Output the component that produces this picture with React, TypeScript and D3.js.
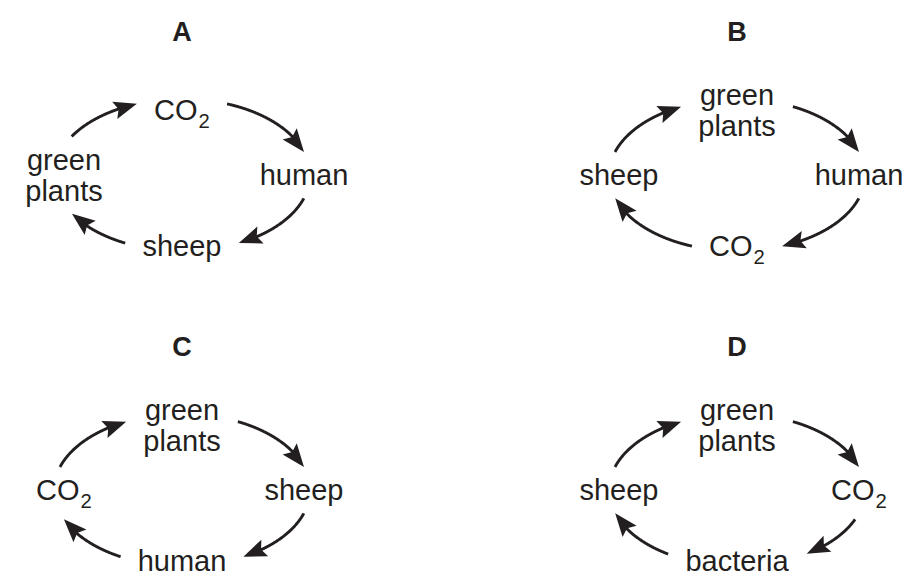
import * as d3 from "d3";
import { useEffect, useRef } from "react";

const panelLabels = ["A", "B", "C", "D"];
// each cycle is listed clockwise, starting at the top node
const cycleA = ["CO2", "human", "sheep", "green plants"];
const cycleB = ["green plants", "human", "CO2", "sheep"];
const cycleC = ["green plants", "sheep", "human", "CO2"];
const cycleD = ["green plants", "CO2", "bacteria", "sheep"];
const cycles = [cycleA, cycleB, cycleC, cycleD];

const WIDTH = 920;
const HEIGHT = 585;
const INK = "#231f20";
const FONT = "'Liberation Sans', Arial, Helvetica, sans-serif";

export default function App() {
  const svgRef = useRef<SVGSVGElement>(null);

  useEffect(() => {
    if (!svgRef.current) return;
    const svg = d3.select(svgRef.current);
    svg.selectAll("*").remove();

    // panel grid
    const col = d3.scaleLinear().domain([0, 1]).range([182, 737]);
    const row = d3.scaleLinear().domain([0, 1]).range([175, 490]);
    // node index -> angle around the ellipse (top, right, bottom, left)
    const angle = d3
      .scaleLinear()
      .domain([0, 4])
      .range([-Math.PI / 2, (3 * Math.PI) / 2]);

    const rx = 128;
    const ry = 76;
    const fontSize = 29;
    const lineH = 31;
    const padX = 17;
    const padY = 7;
    const headLen = 23;
    const headHalf = 9;
    // small inward nudge of the labels: top, right, bottom, left
    const nudge = [
      [0, 11],
      [-6, 0],
      [0, -5],
      [10, 0],
    ];

    const line = d3.line<[number, number]>();

    panelLabels.forEach((label, p) => {
      const cx = col(p % 2);
      const cy = row(Math.floor(p / 2));
      const pt = (t: number): [number, number] => [
        cx + rx * Math.cos(t),
        cy + ry * Math.sin(t),
      ];

      const g = svg.append("g");

      // panel letter
      g.append("text")
        .attr("x", cx)
        .attr("y", cy - 134)
        .attr("text-anchor", "middle")
        .style("font-family", FONT)
        .style("font-size", "27px")
        .style("font-weight", "bold")
        .style("fill", INK)
        .text(label);

      // node labels
      const boxes = cycles[p].map((name, i) => {
        const [x, y] = pt(angle(i));
        const lx = x + nudge[i][0];
        const ly = y + nudge[i][1];
        const words = name.split(" ");
        const text = g
          .append("text")
          .attr("text-anchor", "middle")
          .style("font-family", FONT)
          .style("font-size", `${fontSize}px`)
          .style("fill", INK);
        words.forEach((w, k) => {
          const base = ly + (k - (words.length - 1) / 2) * lineH + 0.35 * fontSize;
          const m = w.match(/^(.*?)(\d)$/);
          text
            .append("tspan")
            .attr("x", lx)
            .attr("y", base)
            .text(m ? m[1] : w);
          if (m) {
            text
              .append("tspan")
              .attr("dx", 1)
              .attr("dy", 8)
              .style("font-size", `${fontSize * 0.7}px`)
              .text(m[2]);
          }
        });
        return (text.node() as SVGTextElement).getBBox();
      });

      const inside = (b: DOMRect, [x, y]: [number, number]) =>
        x >= b.x - padX &&
        x <= b.x + b.width + padX &&
        y >= b.y - padY &&
        y <= b.y + b.height + padY;

      const step = 0.004;

      // arrows between consecutive nodes, clockwise
      boxes.forEach((box, i) => {
        const next = boxes[(i + 1) % boxes.length];
        let t0 = angle(i);
        let t1 = angle(i + 1);
        while (t0 < t1 && inside(box, pt(t0))) t0 += step;
        while (t1 > t0 && inside(next, pt(t1))) t1 -= step;

        const tip = pt(t1);
        const dist = (t: number) => Math.hypot(pt(t)[0] - tip[0], pt(t)[1] - tip[1]);
        // walk back along the arc to find the head base
        let tb = t1;
        while (tb > t0 && dist(tb) < headLen) tb -= step / 4;
        let tl = t1;
        while (tl > t0 && dist(tl) < headLen - 6) tl -= step / 4;

        const pts = d3.range(t0, tl, step).map(pt);
        pts.push(pt(tl));

        g.append("path")
          .attr("d", line(pts))
          .attr("fill", "none")
          .attr("stroke", INK)
          .attr("stroke-width", 2.9);

        const base = pt(tb);
        const dx = tip[0] - base[0];
        const dy = tip[1] - base[1];
        const len = Math.hypot(dx, dy);
        const ux = dx / len;
        const uy = dy / len;
        const nx = -uy;
        const ny = ux;
        const head: [number, number][] = [
          tip,
          [base[0] + nx * headHalf, base[1] + ny * headHalf],
          [base[0] + ux * 4, base[1] + uy * 4],
          [base[0] - nx * headHalf, base[1] - ny * headHalf],
        ];
        g.append("path")
          .attr("d", line(head) + "Z")
          .attr("fill", INK)
          .attr("stroke", "none");
      });
    });

    return () => {
      svg.selectAll("*").remove();
    };
  }, []);

  return (
    <svg
      ref={svgRef}
      width={WIDTH}
      height={HEIGHT}
      style={{ position: "absolute", left: 0, top: 0, background: "#fff" }}
    />
  );
}
